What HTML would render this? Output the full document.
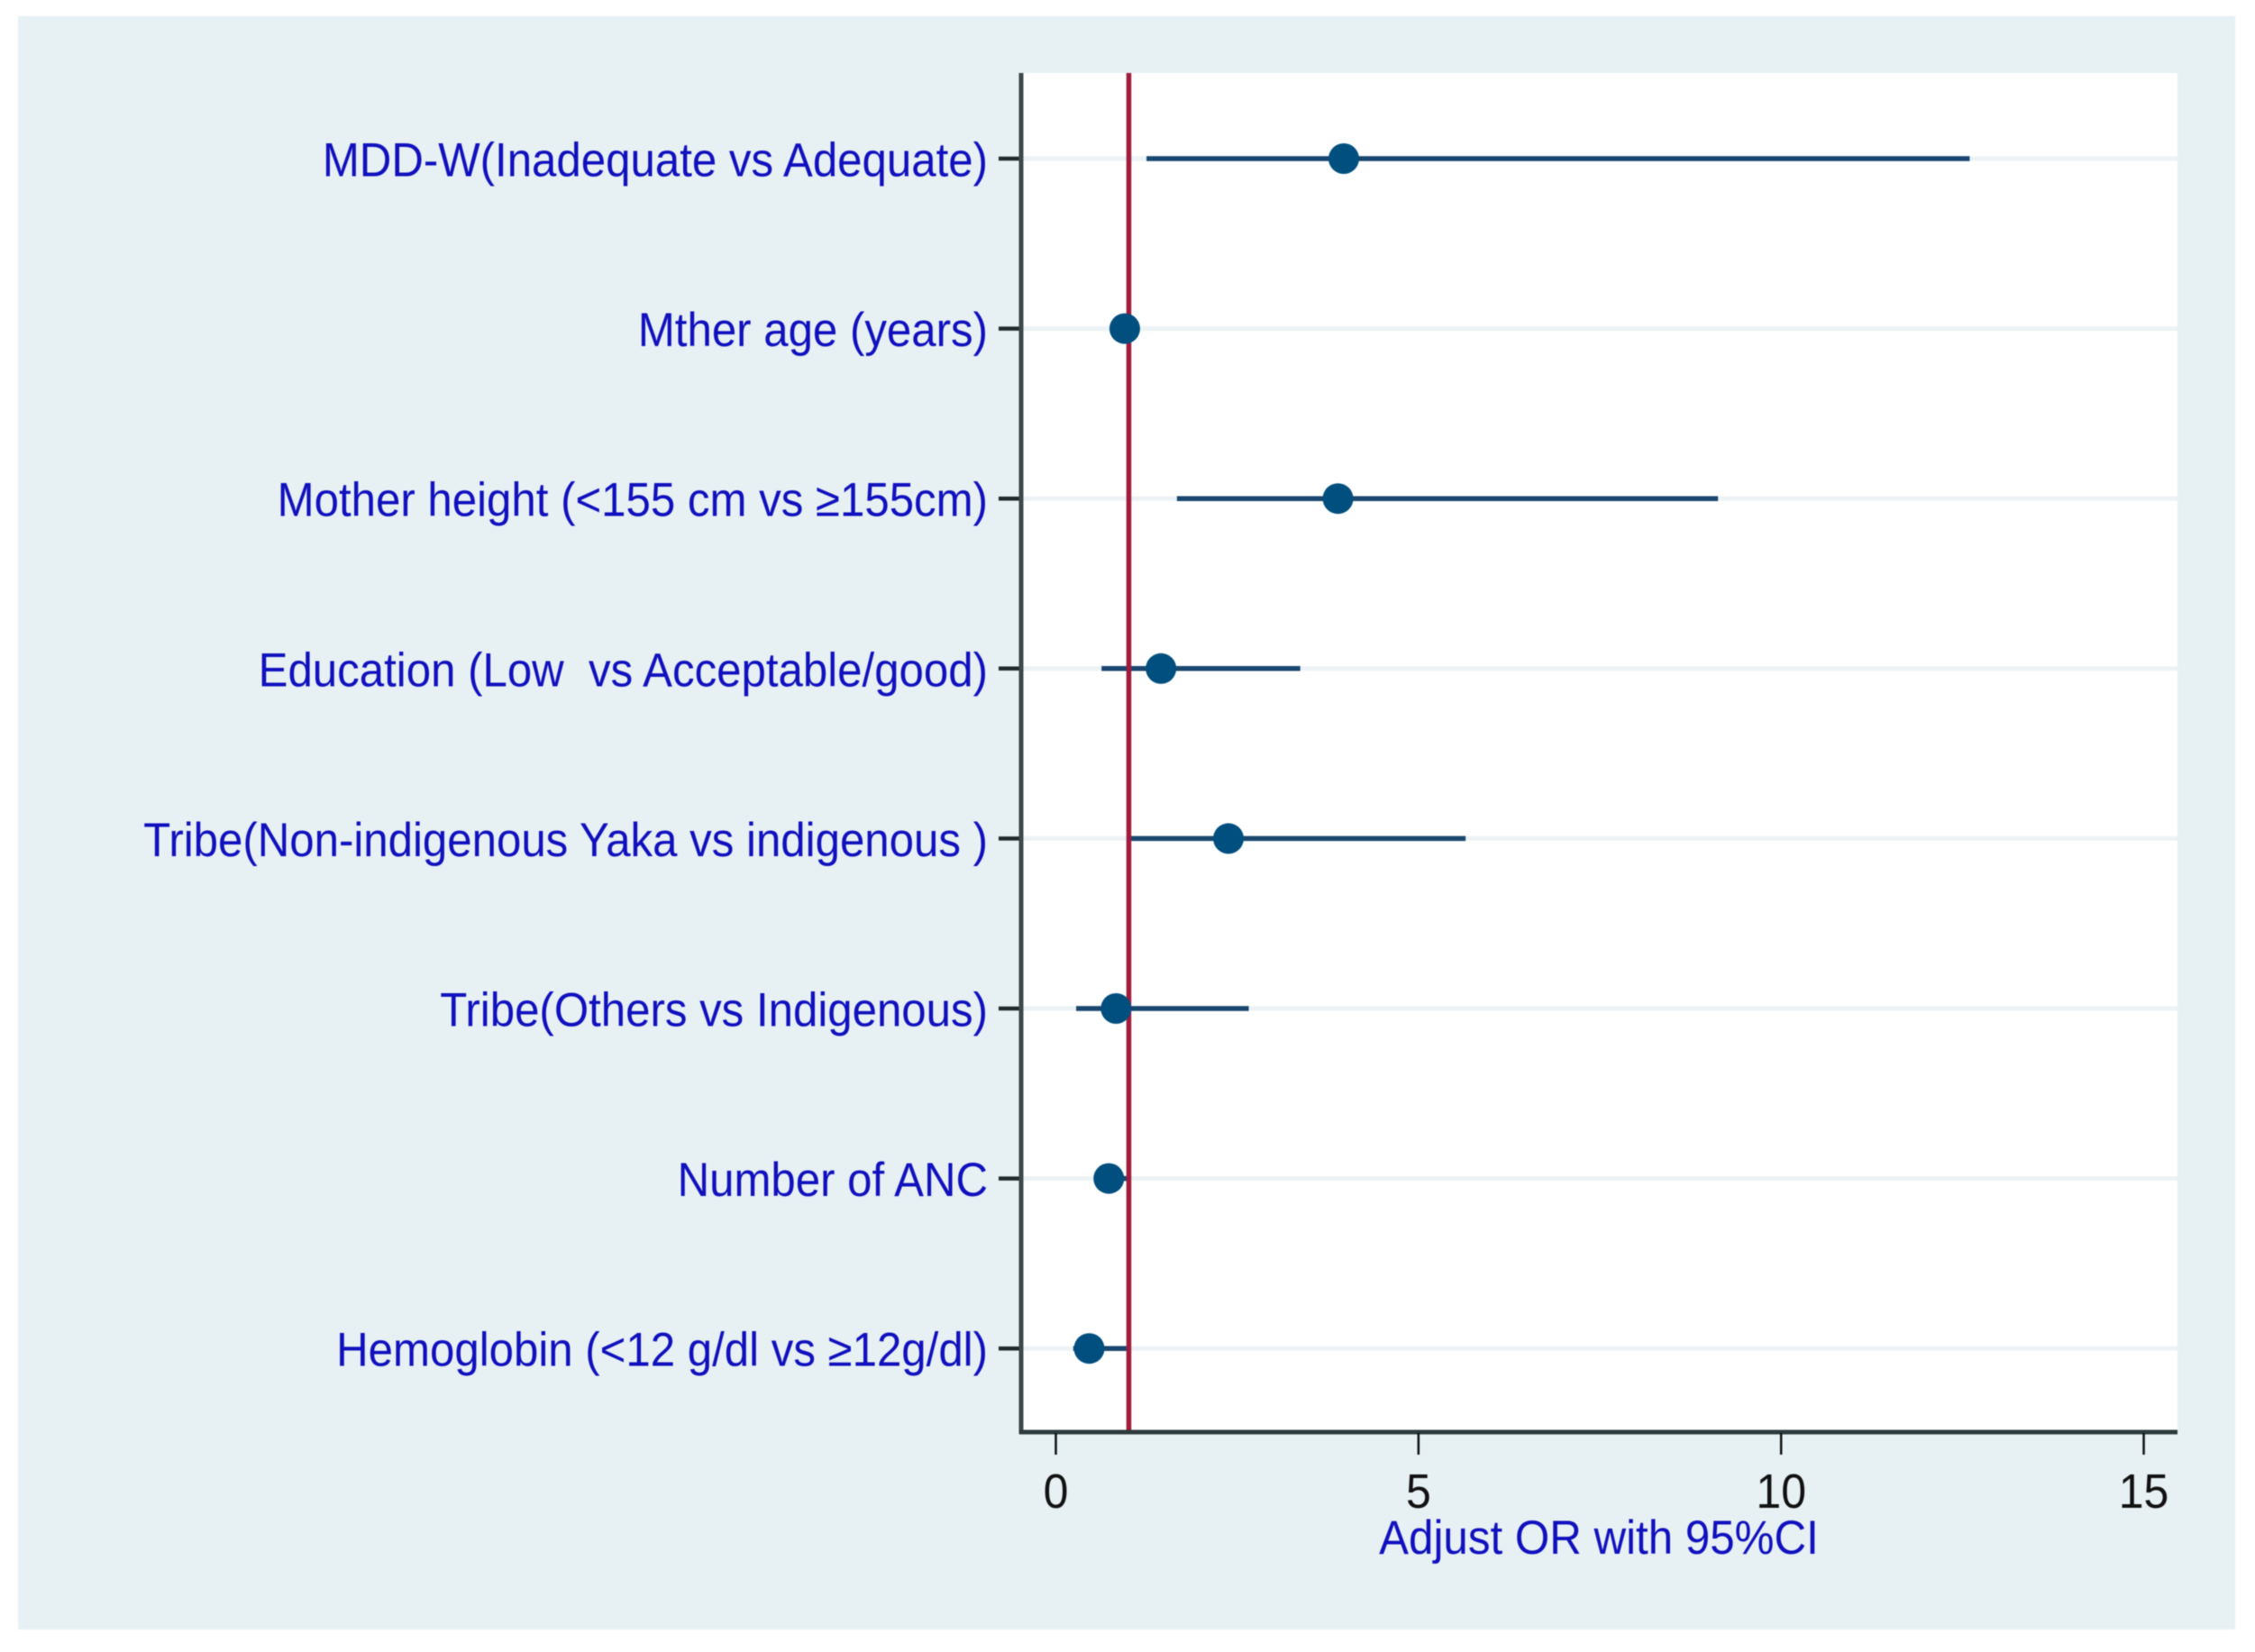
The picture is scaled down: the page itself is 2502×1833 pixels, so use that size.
<!DOCTYPE html>
<html lang="en">
<head>
<meta charset="utf-8">
<title>Adjusted OR forest plot</title>
<style>
html,body{margin:0;padding:0;background:#fff;}
svg{display:block;filter:blur(0.5px);}
text{font-family:"Liberation Sans",sans-serif;white-space:pre;}
</style>
</head>
<body>
<svg id="chart" xmlns="http://www.w3.org/2000/svg" width="2502" height="1833" viewBox="0 0 2502 1833">
  <rect x="0" y="0" width="2502" height="1833" fill="#ffffff"/>
  <rect x="20" y="18" width="2460" height="1790" fill="#e7f0f3"/>
  <rect x="1133" y="81" width="1283" height="1508" fill="#ffffff"/>
  <g id="grid"></g>
  <g id="intervals"></g>
  <g id="refline"></g>
  <g id="points"></g>
  <g id="yaxis"></g>
  <g id="xaxis"></g>
  <text transform="translate(1774 1724) scale(1 1.07)" text-anchor="middle" font-size="49.3" fill="#1010be">Adjust OR with 95%CI</text>
</svg>
<script>
var categories = [
  "MDD-W(Inadequate vs Adequate)",
  "Mther age (years)",
  "Mother height (<155 cm vs ≥155cm)",
  "Education (Low  vs Acceptable/good)",
  "Tribe(Non-indigenous Yaka vs indigenous )",
  "Tribe(Others vs Indigenous)",
  "Number of ANC",
  "Hemoglobin (<12 g/dl vs ≥12g/dl)"
];
var oddsRatios = [3.97, 0.95, 3.89, 1.45, 2.38, 0.83, 0.73, 0.46];
var ciLower = [1.25, 0.93, 1.67, 0.63, 1.03, 0.28, 0.55, 0.24];
var ciUpper = [12.6, 0.98, 9.13, 3.37, 5.65, 2.66, 0.98, 0.99];
var xTicks = [0, 5, 10, 15];
var referenceValue = 1;

var NS = "http://www.w3.org/2000/svg";
function xScale(v) { return 1171.5 + 80.47 * v; }
function yScale(i) { return 176 + 188.6 * i; }
function make(tag, attrs, parent) {
  var el = document.createElementNS(NS, tag);
  for (var k in attrs) { el.setAttribute(k, attrs[k]); }
  parent.appendChild(el);
  return el;
}
var gridG = document.getElementById("grid");
var ciG = document.getElementById("intervals");
var refG = document.getElementById("refline");
var ptG = document.getElementById("points");
var yG = document.getElementById("yaxis");
var xG = document.getElementById("xaxis");

categories.forEach(function (label, i) {
  var y = yScale(i);

  var grid = make("line", {x1: 1135, x2: 2416, y1: y, y2: y, stroke: "#edf3f5", "stroke-width": 5}, gridG);
  
  

  var ci = make("line", {x1: xScale(ciLower[i]), x2: xScale(ciUpper[i]), y1: y, y2: y, stroke: "#1a476f", "stroke-width": 5.5}, ciG);
  
  

  var pt = make("circle", {cx: xScale(oddsRatios[i]), cy: y, r: 17, fill: "#004f7f"}, ptG);
  
  

  var tick = make("line", {x1: 1108, x2: 1133, y1: y, y2: y, stroke: "#1f2a2b", "stroke-width": 4.5}, yG);
  
  

  var txt = make("text", {transform: "translate(1096 " + (y + 19.5) + ") scale(1 1.07)", "text-anchor": "end", "font-size": 49.2, fill: "#1010be"}, yG);
  txt.textContent = label;
  
  
});

var ref = make("line", {x1: xScale(referenceValue) + 0.5, x2: xScale(referenceValue) + 0.5, y1: 81, y2: 1589, stroke: "#a01c3c", "stroke-width": 5.5}, refG);



var yLine = make("line", {x1: 1133, x2: 1133, y1: 81, y2: 1591, stroke: "#3d4849", "stroke-width": 5}, yG);



var xLine = make("line", {x1: 1131, x2: 2416, y1: 1589, y2: 1589, stroke: "#2e3a3b", "stroke-width": 5}, xG);



xTicks.forEach(function (t) {
  var x = xScale(t);

  var tick = make("line", {x1: x, x2: x, y1: 1590, y2: 1614, stroke: "#111", "stroke-width": 2.5}, xG);
  
  

  var lab = make("text", {transform: "translate(" + x + " 1673) scale(1 1.07)", "text-anchor": "middle", "font-size": 50, fill: "#111"}, xG);
  lab.textContent = String(t);
  
  
});
</script>
</body>
</html>
